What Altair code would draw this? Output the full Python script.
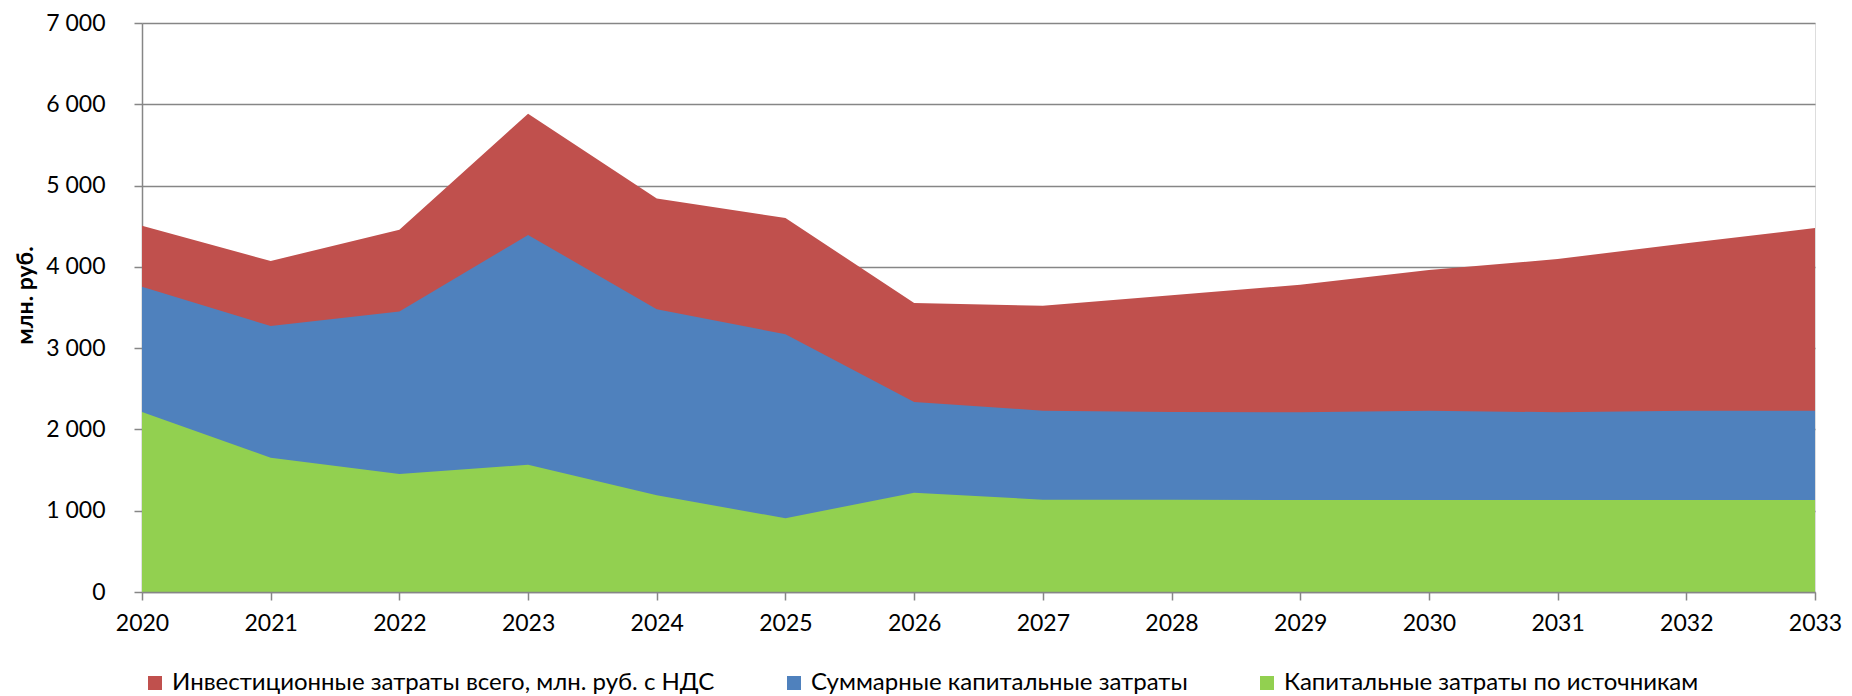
import altair as alt
import pandas as pd

years = list(range(2020, 2034))
series_names = [
    "Инвестиционные затраты всего, млн. руб. с НДС",
    "Суммарные капитальные затраты",
    "Капитальные затраты по источникам",
]
invest_total = [4507, 4072, 4458, 5883, 4840, 4602, 3554, 3522, 3650, 3780, 3960, 4097, 4290, 4478]
capex_sum = [3756, 3271, 3452, 4392, 3480, 3170, 2338, 2231, 2215, 2211, 2231, 2211, 2231, 2231]
capex_sources = [2215, 1651, 1451, 1565, 1189, 907, 1222, 1136, 1136, 1132, 1132, 1132, 1132, 1132]
colors = ["#C0504D", "#4F81BD", "#92D050"]
y_ticks = [0, 1000, 2000, 3000, 4000, 5000, 6000, 7000]

rows = []
for name, vals in zip(series_names, [invest_total, capex_sum, capex_sources]):
    for yr, v in zip(years, vals):
        rows.append({"year": yr, "value": v, "series": name})
df = pd.DataFrame(rows)

FONT = "Lato"
FS = 23
GRAY = "#868686"

color = alt.Color(
    "series:N",
    scale=alt.Scale(domain=series_names, range=colors),
    legend=alt.Legend(
        title=None,
        orient="none",
        direction="horizontal",
        legendX=1,
        legendY=648,
        symbolType="square",
        symbolSize=196,
        symbolStrokeWidth=0,
        symbolOpacity=1,
        labelFont=FONT,
        labelFontSize=24,
        labelColor="#000000",
        labelOffset=5,
        labelLimit=1000,
        columnPadding=67,
    ),
)

x = alt.X(
    "year:Q",
    scale=alt.Scale(domain=[2020, 2033], nice=False, zero=False),
    axis=alt.Axis(
        values=years,
        format="d",
        title=None,
        grid=False,
        domainColor=GRAY,
        domainWidth=1.5,
        tickColor=GRAY,
        tickWidth=1.5,
        tickSize=8,
        labelFont=FONT,
        labelFontSize=FS,
        labelColor="#000000",
        labelPadding=12,
        labelFlush=False,
        labelOverlap=False,
        zindex=1,
    ),
)

y = alt.Y(
    "value:Q",
    stack=None,
    scale=alt.Scale(domain=[0, 7000], nice=False),
    axis=alt.Axis(
        values=y_ticks,
        labelExpr="replace(format(datum.value, ','), ',', ' ')",
        title="млн. руб.",
        titleFont=FONT,
        titleFontSize=FS,
        titleFontWeight="bold",
        titleColor="#000000",
        titleX=-117,
        titleY=272,
        titleAngle=-90,
        titleAlign="center",
        titleBaseline="middle",
        grid=True,
        gridColor=GRAY,
        gridWidth=1.5,
        domainColor=GRAY,
        domainWidth=1.5,
        tickColor=GRAY,
        tickWidth=1.5,
        tickSize=8,
        labelFont=FONT,
        labelFontSize=FS,
        labelColor="#000000",
        labelPadding=29,
        labelFlush=False,
        zindex=0,
    ),
)

layers = [
    alt.Chart(df)
    .transform_filter(alt.datum.series == name)
    .mark_area(opacity=1, interpolate="linear")
    .encode(x=x, y=y, color=color)
    for name in series_names
]

chart = (
    alt.layer(*layers)
    .properties(
        width=1673,
        height=569,
        autosize=alt.AutoSizeParams(type="none"),
        padding={"left": 134, "top": 15, "right": 29, "bottom": 104},
    )
    .configure_view(stroke=None)
    .configure(background="white")
)

chart.save("out.html", embed_options={"renderer": "svg", "actions": False})
